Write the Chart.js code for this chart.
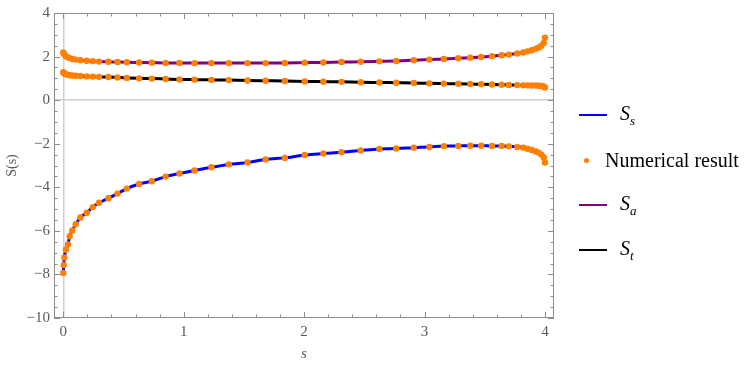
<!DOCTYPE html>
<html>
<head>
<meta charset="utf-8">
<script src="https://cdn.jsdelivr.net/npm/chart.js@4.4.0/dist/chart.umd.min.js"></script>
<style>
  body { margin: 0; background: #fff; }
  #wrap { position: relative; width: 747px; height: 367px; }
  #legend { position: absolute; left: 0; top: 0; font-family: "Liberation Serif", "DejaVu Serif", serif; color: #000; }
  .row { position: absolute; height: 26px; display: flex; align-items: center; white-space: nowrap; }
  .sw { display: inline-block; width: 28px; height: 2.2px; margin-right: 13px; }
  .dot { display: inline-block; width: 5px; height: 5px; border-radius: 50%; margin-left: 2px; margin-right: 16px; }
  .lbl { font-size: 20px; }
  .lbl i sub { font-size: 13px; }
</style>
</head>
<body>
<div id="wrap">
  <canvas id="main-chart" width="747" height="367"></canvas>
  <div id="legend"></div>
</div>
<script>
//sample points of s (same grid for the curves and the numerical dots)
const sValues = [0, 0.004, 0.009, 0.022, 0.039, 0.053, 0.075, 0.103, 0.142, 0.195, 0.245, 0.297, 0.375, 0.45, 0.528,
  0.63, 0.735, 0.85, 0.965, 1.09, 1.23, 1.375, 1.53, 1.68, 1.84, 2.005, 2.16, 2.31, 2.47, 2.625, 2.765, 2.91, 3.04,
  3.16, 3.28, 3.38, 3.47, 3.56, 3.64, 3.70, 3.77, 3.82, 3.855, 3.89, 3.925, 3.95, 3.97, 3.99, 4.0];

//S_s values
const ssValues = [-7.93, -7.57, -7.22, -6.87, -6.62, -6.25, -5.98, -5.70, -5.39, -5.17, -4.91, -4.71, -4.50, -4.29, -4.06,
  -3.85, -3.72, -3.51, -3.37, -3.23, -3.08, -2.95, -2.86, -2.72, -2.65, -2.52, -2.45, -2.39, -2.31, -2.24, -2.22, -2.18, -2.15,
  -2.11, -2.10, -2.09, -2.09, -2.10, -2.10, -2.12, -2.15, -2.18, -2.23, -2.29, -2.36, -2.42, -2.50, -2.62, -2.86];

//S_a values
const saValues = [2.19, 2.14, 2.09, 2.02, 1.97, 1.93, 1.89, 1.86, 1.83, 1.81, 1.79, 1.77, 1.76, 1.75, 1.74,
  1.73, 1.72, 1.71, 1.71, 1.70, 1.70, 1.70, 1.70, 1.70, 1.71, 1.72, 1.73, 1.75, 1.76, 1.78, 1.80, 1.83, 1.86,
  1.89, 1.92, 1.95, 1.98, 2.02, 2.06, 2.09, 2.14, 2.19, 2.24, 2.29, 2.36, 2.42, 2.50, 2.63, 2.87];

//S_t values
const stValues = [1.28, 1.25, 1.22, 1.19, 1.16, 1.14, 1.13, 1.12, 1.11, 1.09, 1.08, 1.07, 1.06, 1.04, 1.02,
  1.00, 0.99, 0.97, 0.95, 0.94, 0.93, 0.92, 0.90, 0.89, 0.88, 0.86, 0.85, 0.84, 0.82, 0.81, 0.80, 0.79, 0.77,
  0.76, 0.75, 0.74, 0.73, 0.72, 0.71, 0.70, 0.69, 0.68, 0.68, 0.67, 0.67, 0.66, 0.65, 0.63, 0.58];

//tick labels
const xTickValues = [0, 1, 2, 3, 4];
const yTickValues = [-10, -8, -6, -4, -2, 0, 2, 4];

//helper to zip s with a series
function toPoints(ys) {
  return sValues.map((s, i) => ({x: s, y: ys[i]}));
}

const serif = '"Liberation Serif", "DejaVu Serif", serif';
const frameColor = '#8c8c8c';
const textColor = '#5a5a5a';

//frame on all four sides with inward ticks, like Mathematica
const frameTicks = {
  id: 'frameTicks',
  afterDatasetsDraw(chart) {
    const {ctx, chartArea: a, scales: {x, y}} = chart;
    ctx.save();
    ctx.strokeStyle = frameColor;
    ctx.lineWidth = 1;
    ctx.strokeRect(a.left + 0.5, a.top + 0.5, a.right - a.left - 1, a.bottom - a.top - 1);
    ctx.beginPath();
    for (let v = 0; v <= 4.0001; v += 0.2) {
      const px = Math.round(x.getPixelForValue(v)) + 0.5;
      const len = Math.abs(v - Math.round(v)) < 1e-6 ? 6 : 3.5;
      ctx.moveTo(px, a.bottom); ctx.lineTo(px, a.bottom - len);
      ctx.moveTo(px, a.top); ctx.lineTo(px, a.top + len);
    }
    for (let v = -10; v <= 4.0001; v += 0.5) {
      const py = Math.round(y.getPixelForValue(v)) + 0.5;
      const len = Math.abs(v / 2 - Math.round(v / 2)) < 1e-6 ? 6 : 3.5;
      ctx.moveTo(a.left, py); ctx.lineTo(a.left + len, py);
      ctx.moveTo(a.right, py); ctx.lineTo(a.right - len, py);
    }
    ctx.stroke();
    ctx.restore();
  }
};

//html legend built from the datasets
const htmlLegend = {
  id: 'htmlLegend',
  afterUpdate(chart) {
    const box = document.getElementById('legend');
    box.innerHTML = '';
    const rows = [115, 160, 205, 250];
    chart.data.datasets.forEach((ds, i) => {
      const row = document.createElement('div');
      row.className = 'row';
      row.style.top = (rows[i] - 13) + 'px';
      if (ds.type === 'scatter') {
        row.style.left = '582px';
        row.innerHTML = '<span class="dot" style="background:' + ds.backgroundColor + '"></span><span class="lbl">' + ds.label + '</span>';
      } else {
        row.style.left = '579px';
        const sub = ds.label.split('_')[1];
        row.innerHTML = '<span class="sw" style="background:' + ds.borderColor + '"></span><span class="lbl"><i>S<sub>' + sub + '</sub></i></span>';
      }
      box.appendChild(row);
    });
  }
};

const lineStyle = {type: 'line', pointRadius: 0, borderWidth: 3, cubicInterpolationMode: 'monotone', fill: false};

const chart_elem = document.getElementById('main-chart');
const main_chart = new Chart(chart_elem, {
  data: {
    datasets: [
      Object.assign({label: 'S_s', data: toPoints(ssValues), borderColor: '#0000ff', order: 3}, lineStyle),
      {type: 'scatter', label: 'Numerical result',
        data: toPoints(ssValues).concat(toPoints(saValues), toPoints(stValues)),
        backgroundColor: '#ff8000', borderWidth: 0, pointRadius: 3.2, order: 0},
      Object.assign({label: 'S_a', data: toPoints(saValues), borderColor: '#800080', order: 2}, lineStyle),
      Object.assign({label: 'S_t', data: toPoints(stValues), borderColor: '#000000', order: 1}, lineStyle)
    ]
  },
  options: {
    responsive: false,
    animation: false,
    layout: {padding: {top: 9, right: 193, left: 0, bottom: 0}},
    plugins: {legend: {display: false}, tooltip: {enabled: false}},
    scales: {
      x: {
        type: 'linear', min: -0.077, max: 4.075,
        afterFit: (scale) => { scale.height = 49; },
        afterBuildTicks: (scale) => { scale.ticks = xTickValues.map(v => ({value: v})); },
        ticks: {color: textColor, font: {family: serif, size: 15}, padding: 5, maxRotation: 0},
        grid: {drawTicks: false, color: (c) => c.tick && c.tick.value === 0 ? '#cfcfcf' : 'transparent', lineWidth: 1.5},
        border: {display: false},
        title: {display: true, text: 's', color: textColor, font: {family: serif, size: 15, style: 'italic'}, padding: {top: 4}}
      },
      y: {
        type: 'linear', min: -10, max: 4,
        afterFit: (scale) => { scale.width = 54; },
        afterBuildTicks: (scale) => { scale.ticks = yTickValues.map(v => ({value: v})); },
        ticks: {color: textColor, font: {family: serif, size: 15}, padding: 4,
          callback: (v) => v < 0 ? '\u2212' + Math.abs(v) : String(v)},
        grid: {drawTicks: false, color: (c) => c.tick && c.tick.value === 0 ? '#cfcfcf' : 'transparent', lineWidth: 1.5},
        border: {display: false},
        title: {display: true, text: 'S(s)', color: textColor, font: {family: serif, size: 14}, padding: {bottom: 0}}
      }
    }
  },
  plugins: [frameTicks, htmlLegend]
});
</script>
</body>
</html>
